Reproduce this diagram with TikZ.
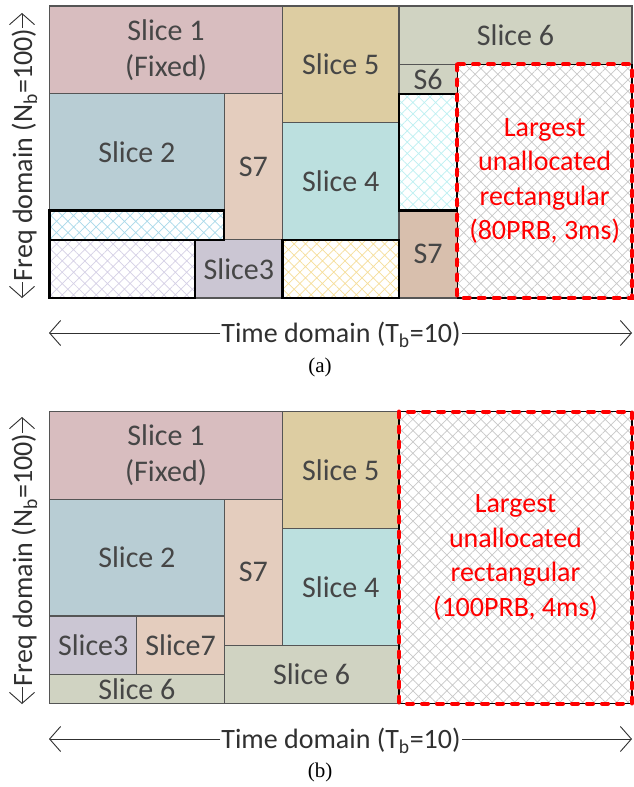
\documentclass[tikz,border=0pt]{standalone}
\usepackage{fontspec}
\setmainfont{Carlito}
\newfontfamily\capfont{Liberation Serif}
\usetikzlibrary{patterns.meta,arrows.meta}
\definecolor{cSa}{HTML}{D8BDBF}
\definecolor{cSb}{HTML}{B8CDD4}
\definecolor{cSg}{HTML}{E4CDBE}
\definecolor{cSgb}{HTML}{D8BFAD}
\definecolor{cSc}{HTML}{CBC6D3}
\definecolor{cSe}{HTML}{DDCDA2}
\definecolor{cSd}{HTML}{BCE0DF}
\definecolor{cSf}{HTML}{D0D3C2}
\definecolor{bdr}{HTML}{555555}
\definecolor{hBlue}{HTML}{A9D9EA}
\definecolor{hLav}{HTML}{D5D0E6}
\definecolor{hYel}{HTML}{F6DE9A}
\definecolor{hCyan}{HTML}{BDF0F2}
\definecolor{hGrey}{HTML}{C8C8C8}
\definecolor{lbltxt}{HTML}{464646}
\definecolor{axtxt}{HTML}{303030}
\tikzset{
  slc/.style={fill=#1, draw=bdr, line width=1.2pt},
  emp/.style={preaction={fill=white}, pattern color=#1,
    pattern={Hatch[angle=45,distance=8pt,line width=0.7pt]}, draw=black, line width=2.2pt},
  freearea/.style={preaction={fill=white}, pattern color=hGrey,
    pattern={Hatch[angle=45,distance=8pt,line width=0.7pt]}},
  freeline/.style={draw=black, line width=1.2pt},
  freedash/.style={draw=red, line width=4pt, dash pattern=on 6pt off 9pt, line cap=round},
  lbl/.style={text=lbltxt, font=\fontsize{30}{36}\selectfont, align=center, inner sep=0pt},
  freelbl/.style={text=red, font=\fontsize{28}{34.5}\selectfont, align=center, inner sep=0pt},
  axlbl/.style={text=axtxt, font=\fontsize{28}{34}\selectfont, inner xsep=1pt, inner ysep=0pt},
  axarr/.style={draw=axtxt, line width=0.9pt, -{Straight Barb[length=11pt,width=25pt]}},
  capt/.style={font=\capfont\fontsize{21}{24}\selectfont, inner sep=0pt},
}
\begin{document}
\begin{tikzpicture}[x=1pt,y=-1pt]
\useasboundingbox (0,0) rectangle (633,787);
\fill[white] (0,0) rectangle (633,787);

% ---------------- panel (a) ----------------
\begin{scope}[shift={(49.5,6)}, x=58.25pt, y=-2.92pt]
  \path[slc=cSa]  (0,0) rectangle (4,30);
  \path[slc=cSb]  (0,30) rectangle (3,70);
  \path[slc=cSg]  (3,30) rectangle (4,80);
  \path[slc=cSc]  (2.5,80) rectangle (4,100);
  \path[slc=cSe]  (4,0) rectangle (6,40);
  \path[slc=cSd]  (4,40) rectangle (6,80);
  \path[slc=cSf]  (6,0) rectangle (10,20);
  \path[slc=cSf]  (6,20) rectangle (7,30);
  \path[slc=cSgb] (6,70) rectangle (7,100);
  \path[emp=hBlue] (0,70) rectangle (3,80);
  \path[emp=hLav]  (0,80) rectangle (2.5,100);
  \path[emp=hYel]  (4,80) rectangle (6,100);
  \path[emp=hCyan] (6,30) rectangle (7,70);
  \path[freearea] (7,20) rectangle (10,100);
  \path[freeline] (7,20) rectangle (10,100);
  \path[freedash] (7,20) rectangle (10,100);
  \node[lbl] (a1) at (2,15) {Slice 1\\(Fixed)};
  \node[lbl] (a2) at (1.5,50) {Slice 2};
  \node[lbl] (a7) at (3.5,55) {S7};
  \node[lbl] (a3) at (3.25,90) {Slice3};
  \node[lbl] (a5) at (5,20) {Slice 5};
  \node[lbl] (a4) at (5,60) {Slice 4};
  \node[lbl] (a6) at (8,10) {Slice 6};
  \node[lbl] (a6s) at (6.5,25) {S6};
  \node[lbl] (a7s) at (6.5,85) {S7};
  \node[freelbl] (afree) at (8.5,60) {Largest\\unallocated\\rectangular\\(80PRB, 3ms)};
\end{scope}
% axes (a)
\node[axlbl, anchor=base] (ata) at (341,342) {Time domain (T\textsubscript{b}=10)};
\coordinate (atl) at (49,333);
\coordinate (atr) at (632,333);
\draw[axarr] (ata.west |- atl) -- (atl);
\draw[axarr] (ata.east |- atr) -- (atr);
\node[axlbl, rotate=90, anchor=base] (afa) at (32,155) {Freq domain (N\textsubscript{b}=100)};
\coordinate (aft) at (22,13);
\coordinate (afb) at (22,298);
\draw[axarr] (afa.east -| aft) -- (aft);
\draw[axarr] (afa.west -| afb) -- (afb);
\node[capt] (capa) at (320,367) {(a)};

% ---------------- panel (b) ----------------
\begin{scope}[shift={(49.5,411.5)}, x=58.25pt, y=-2.92pt]
  \path[slc=cSa]  (0,0) rectangle (4,30);
  \path[slc=cSb]  (0,30) rectangle (3,70);
  \path[slc=cSg]  (3,30) rectangle (4,80);
  \path[slc=cSc]  (0,70) rectangle (1.5,90);
  \path[slc=cSg]  (1.5,70) rectangle (3,90);
  \path[slc=cSf]  (0,90) rectangle (3,100);
  \path[slc=cSf]  (3,80) rectangle (6,100);
  \path[slc=cSe]  (4,0) rectangle (6,40);
  \path[slc=cSd]  (4,40) rectangle (6,80);
  \path[freearea] (6,0) rectangle (10,100);
  \path[freeline] (6,0) rectangle (10,100);
  \path[freedash] (6,0) rectangle (10,100);
  \node[lbl] (b1) at (2,15) {Slice 1\\(Fixed)};
  \node[lbl] (b2) at (1.5,50) {Slice 2};
  \node[lbl] (b7) at (3.5,55) {S7};
  \node[lbl] (b3) at (0.75,80) {Slice3};
  \node[lbl] (b7b) at (2.25,80) {Slice7};
  \node[lbl] (b6a) at (1.5,95) {Slice 6};
  \node[lbl] (b6b) at (4.5,90) {Slice 6};
  \node[lbl] (b5) at (5,20) {Slice 5};
  \node[lbl] (b4) at (5,60) {Slice 4};
  \node[freelbl] (bfree) at (8,50) {Largest\\unallocated\\rectangular\\(100PRB, 4ms)};
\end{scope}
% axes (b)
\node[axlbl, anchor=base] (bta) at (341,748) {Time domain (T\textsubscript{b}=10)};
\coordinate (btl) at (49,739);
\coordinate (btr) at (632,739);
\draw[axarr] (bta.west |- btl) -- (btl);
\draw[axarr] (bta.east |- btr) -- (btr);
\node[axlbl, rotate=90, anchor=base] (bfa) at (32,560) {Freq domain (N\textsubscript{b}=100)};
\coordinate (bft) at (22,417);
\coordinate (bfb) at (22,704);
\draw[axarr] (bfa.east -| bft) -- (bft);
\draw[axarr] (bfa.west -| bfb) -- (bfb);
\node[capt] (capb) at (320,772) {(b)};
\end{tikzpicture}
\end{document}
